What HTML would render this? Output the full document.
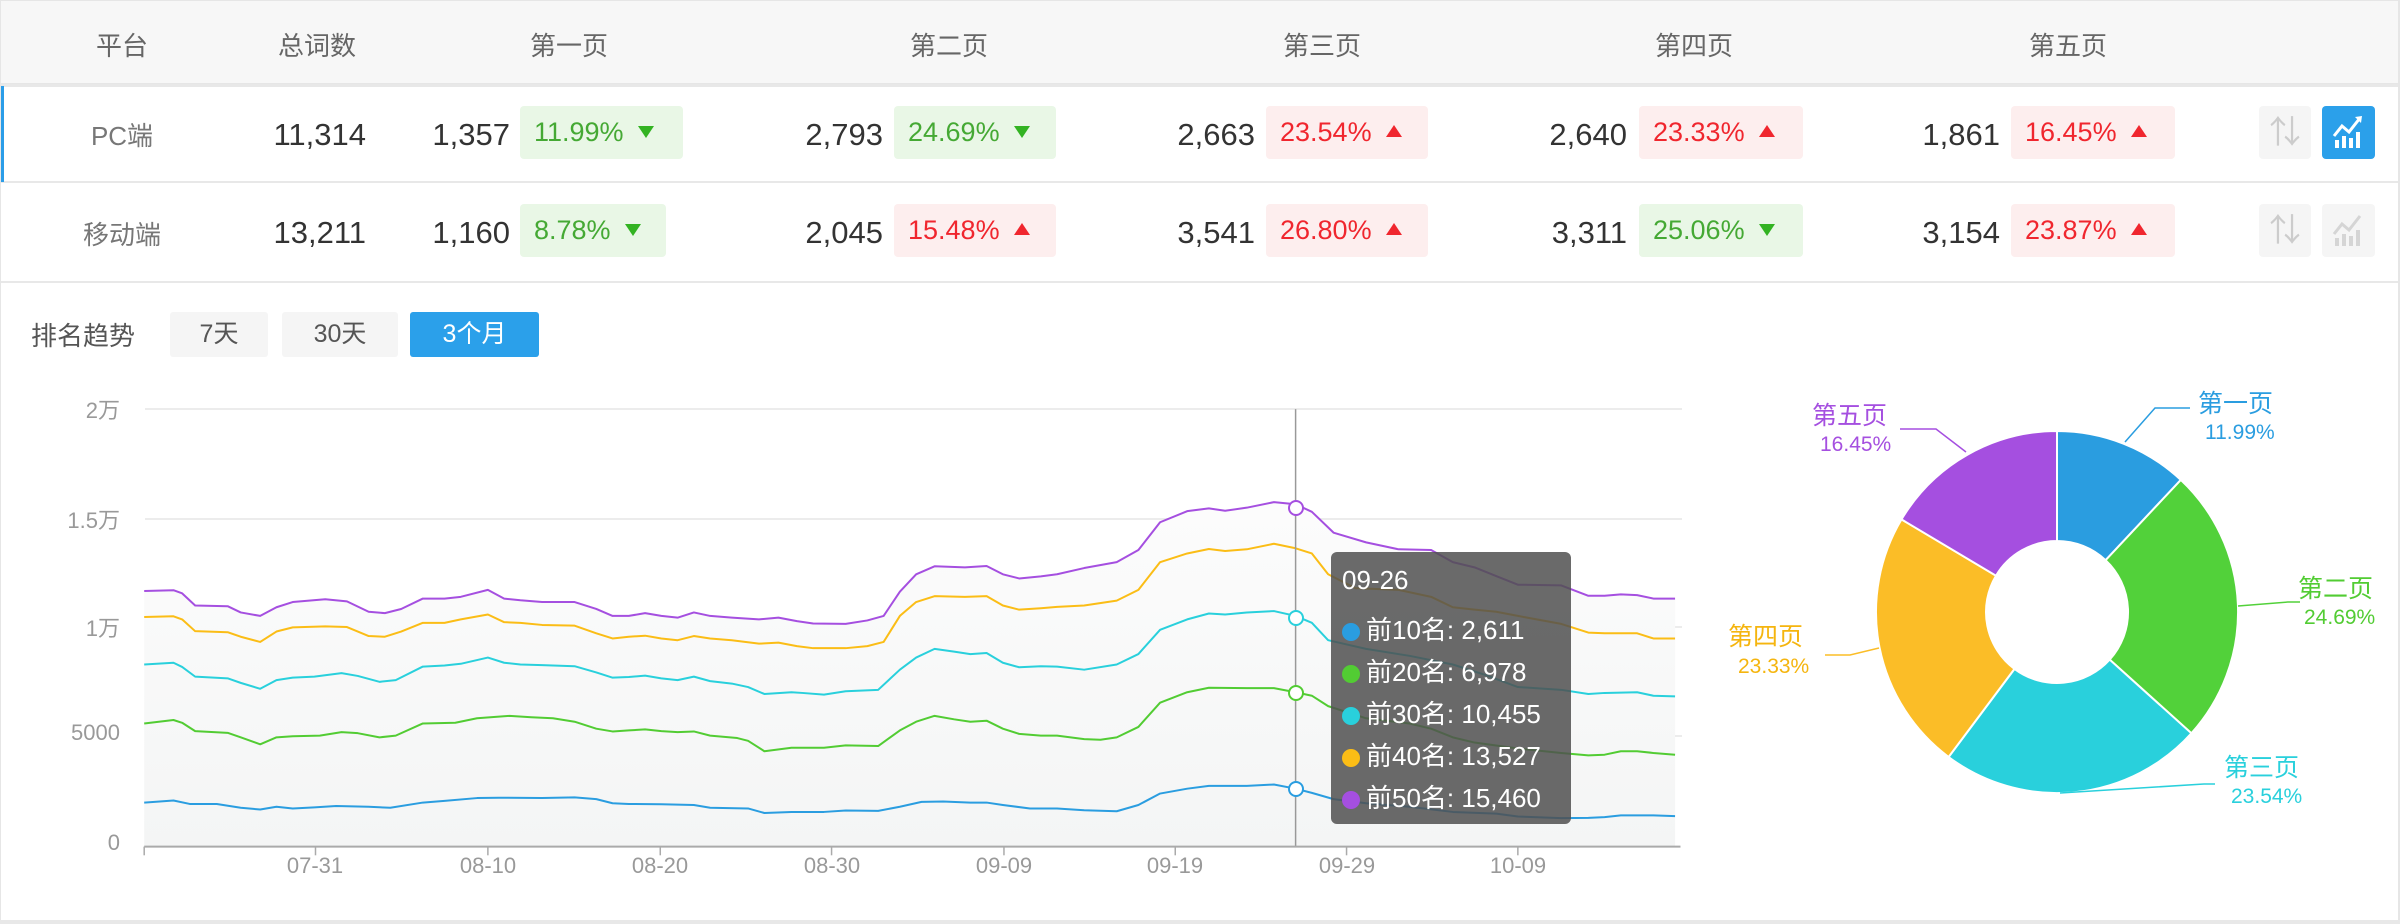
<!DOCTYPE html>
<html><head><meta charset="utf-8"><style>
*{margin:0;padding:0;box-sizing:border-box}
body{width:2400px;height:924px;background:#fff;font-family:"Liberation Sans","Noto Sans CJK SC",sans-serif;position:relative;overflow:hidden}
.a{position:absolute;white-space:nowrap}
.h{color:#666;font-size:26px;top:26px;transform:translateX(-50%)}
.n{color:#333;font-size:31px;text-align:right}
.b{position:absolute;height:53px;border-radius:4px;font-size:27px;line-height:53px;padding-left:14px}
.g{background:#e9f7e6;color:#45a934}
.r{background:#fdeeee;color:#f0262e}
.tu,.td{display:inline-block;width:0;height:0;margin-left:14px;vertical-align:middle;border-left:8px solid transparent;border-right:8px solid transparent}
.tu{border-bottom:12px solid #f0262e;margin-top:-6px}
.td{border-top:12px solid #33b322;margin-top:-4px}
.btn{position:absolute;top:312px;height:45px;border-radius:3px;background:#f5f5f5;color:#555;font-size:25px;line-height:45px;text-align:center}
.yl{color:#999;font-size:22px;text-align:right;width:80px;left:40px}
.xl{color:#999;font-size:22px;top:853px;transform:translateX(-50%)}
.tt{color:#fff;font-size:26px;left:1342px}
.dot{display:inline-block;width:18px;height:18px;border-radius:50%;margin-right:6px;vertical-align:-2px}
.pl{font-size:25px}.pp{font-size:21px}
</style></head><body>
<div class="a" style="left:0;top:0;width:2400px;height:84px;background:#f7f7f7;border:1px solid #e6e6e6"></div>
<div class="a" style="left:0;top:84px;width:2400px;height:3px;background:#e8e8e8"></div>
<div class="a" style="left:0;top:181px;width:2400px;height:2px;background:#e8e8e8"></div>
<div class="a" style="left:0;top:281px;width:2400px;height:2px;background:#e8e8e8"></div>
<div class="a" style="left:0;top:86px;width:4px;height:96px;background:#2b9de8"></div>
<div class="a" style="left:0;top:0;width:1px;height:924px;background:#e6e6e6"></div>
<div class="a" style="left:2398px;top:0;width:2px;height:924px;background:#e6e6e6"></div>
<div class="a" style="left:0;top:920px;width:2400px;height:4px;background:#e8e8e8"></div>

<div class="a h" style="left:122px">平台</div>
<div class="a h" style="left:317px">总词数</div>
<div class="a h" style="left:569px">第一页</div>
<div class="a h" style="left:949px">第二页</div>
<div class="a h" style="left:1322px">第三页</div>
<div class="a h" style="left:1694px">第四页</div>
<div class="a h" style="left:2068px">第五页</div>

<div class="a" style="left:122px;top:116px;transform:translateX(-50%);color:#777;font-size:26px">PC端</div>
<div class="a" style="left:122px;top:215px;transform:translateX(-50%);color:#777;font-size:26px">移动端</div>

<div class="a n" style="right:2034px;top:117px">11,314</div>
<div class="a n" style="right:1890px;top:117px">1,357</div>
<div class="b g" style="left:520px;top:106px;width:163px">11.99%<span class="td"></span></div>
<div class="a n" style="right:1517px;top:117px">2,793</div>
<div class="b g" style="left:894px;top:106px;width:162px">24.69%<span class="td"></span></div>
<div class="a n" style="right:1145px;top:117px">2,663</div>
<div class="b r" style="left:1266px;top:106px;width:162px">23.54%<span class="tu"></span></div>
<div class="a n" style="right:773px;top:117px">2,640</div>
<div class="b r" style="left:1639px;top:106px;width:164px">23.33%<span class="tu"></span></div>
<div class="a n" style="right:400px;top:117px">1,861</div>
<div class="b r" style="left:2011px;top:106px;width:164px">16.45%<span class="tu"></span></div>

<div class="a n" style="right:2034px;top:215px">13,211</div>
<div class="a n" style="right:1890px;top:215px">1,160</div>
<div class="b g" style="left:520px;top:204px;width:146px">8.78%<span class="td"></span></div>
<div class="a n" style="right:1517px;top:215px">2,045</div>
<div class="b r" style="left:894px;top:204px;width:162px">15.48%<span class="tu"></span></div>
<div class="a n" style="right:1145px;top:215px">3,541</div>
<div class="b r" style="left:1266px;top:204px;width:162px">26.80%<span class="tu"></span></div>
<div class="a n" style="right:773px;top:215px">3,311</div>
<div class="b g" style="left:1639px;top:204px;width:164px">25.06%<span class="td"></span></div>
<div class="a n" style="right:400px;top:215px">3,154</div>
<div class="b r" style="left:2011px;top:204px;width:164px">23.87%<span class="tu"></span></div>

<div class="a" style="left:2259px;top:106px;width:52px;height:53px;background:#f5f5f5;border-radius:4px;color:#ccc;font-size:32px;text-align:center;line-height:53px">⇅</div>
<div class="a" style="left:2322px;top:106px;width:53px;height:53px;background:#2ba0ea;border-radius:4px"><svg width="53" height="53"><g fill="#fff"><rect x="13" y="34" width="4" height="8"/><rect x="20" y="30" width="4" height="12"/><rect x="27" y="32" width="4" height="10"/><rect x="34" y="26" width="4" height="16"/></g><polyline points="12,30 20,20 27,26 38,12" fill="none" stroke="#fff" stroke-width="3"/><polygon points="33,11 40,10 39,17" fill="#fff"/></svg></div>
<div class="a" style="left:2259px;top:204px;width:52px;height:53px;background:#f5f5f5;border-radius:4px;color:#ccc;font-size:32px;text-align:center;line-height:53px">⇅</div>
<div class="a" style="left:2322px;top:204px;width:53px;height:53px;background:#f5f5f5;border-radius:4px"><svg width="53" height="53"><g fill="#d5d5d5"><rect x="13" y="34" width="4" height="8"/><rect x="20" y="30" width="4" height="12"/><rect x="27" y="32" width="4" height="10"/><rect x="34" y="26" width="4" height="16"/></g><polyline points="12,30 20,20 27,26 38,12" fill="none" stroke="#d5d5d5" stroke-width="3"/></svg></div>

<div class="a" style="left:31px;top:316px;color:#555;font-size:26px">排名趋势</div>
<div class="btn" style="left:170px;width:98px">7天</div>
<div class="btn" style="left:282px;width:116px">30天</div>
<div class="btn" style="left:410px;width:129px;background:#2ba0ea;color:#fff">3个月</div>

<div class="a" style="left:145px;top:408px;width:1537px;height:2px;background:#ececec"></div>
<div class="a" style="left:145px;top:518px;width:1537px;height:2px;background:#ececec"></div>
<div class="a" style="left:145px;top:626px;width:1537px;height:2px;background:#ececec"></div>
<div class="a" style="left:145px;top:735px;width:1537px;height:2px;background:#ececec"></div>
<div class="a yl" style="top:393px">2万</div>
<div class="a yl" style="top:503px">1.5万</div>
<div class="a yl" style="top:611px">1万</div>
<div class="a yl" style="top:720px">5000</div>
<div class="a yl" style="top:830px">0</div>

<svg class="a" style="left:0;top:380px" width="1700" height="544" viewBox="0 0 1568 1568" preserveAspectRatio="none">
<defs><linearGradient id="gf" x1="0" y1="0" x2="0" y2="1"><stop offset="0" stop-color="#fcfcfc"/><stop offset="1" stop-color="#f4f5f5"/></linearGradient></defs>
<g fill="none" stroke-width="2" stroke-linejoin="round">
<polygon fill="url(#gf)" stroke="none" points="133,1345 133,608 160,606 168,615 180,650 210,652 222,670 240,680 255,655 270,640 300,632 320,638 340,668 355,672 370,660 390,630 410,630 425,625 450,605 465,630 480,635 500,640 530,640 550,660 565,680 580,680 595,672 610,680 625,685 640,670 655,680 675,685 700,690 718,685 735,695 750,702 780,703 800,693 815,680 830,610 845,560 862,537 890,540 910,536 925,560 940,572 960,566 975,560 1000,542 1030,525 1050,490 1070,410 1095,378 1115,370 1130,377 1150,368 1175,352 1195,358 1210,380 1230,440 1260,468 1290,488 1320,490 1340,525 1360,540 1380,565 1400,590 1440,592 1465,622 1480,622 1495,618 1510,620 1525,630 1545,630 1545,1345"/>
<polyline vector-effect="non-scaling-stroke" stroke="#a54fe0" points="133,608 160,606 168,615 180,650 210,652 222,670 240,680 255,655 270,640 300,632 320,638 340,668 355,672 370,660 390,630 410,630 425,625 450,605 465,630 480,635 500,640 530,640 550,660 565,680 580,680 595,672 610,680 625,685 640,670 655,680 675,685 700,690 718,685 735,695 750,702 780,703 800,693 815,680 830,610 845,560 862,537 890,540 910,536 925,560 940,572 960,566 975,560 1000,542 1030,525 1050,490 1070,410 1095,378 1115,370 1130,377 1150,368 1175,352 1195,358 1210,380 1230,440 1260,468 1290,488 1320,490 1340,525 1360,540 1380,565 1400,590 1440,592 1465,622 1480,622 1495,618 1510,620 1525,630 1545,630"/>
<polyline vector-effect="non-scaling-stroke" stroke="#fbbd16" points="133,683 160,681 168,690 180,724 210,727 222,740 240,755 255,725 270,713 300,710 320,712 340,738 355,740 370,725 390,700 410,700 425,690 450,676 465,698 480,700 500,706 530,708 550,730 565,745 580,740 595,737 610,745 625,750 640,738 655,745 675,750 700,760 718,757 735,767 750,773 780,773 800,767 815,755 830,680 845,640 862,623 890,625 910,623 925,650 940,662 960,658 975,654 1000,650 1030,636 1050,605 1070,525 1095,500 1115,487 1130,493 1150,488 1175,472 1195,485 1210,500 1225,560 1250,600 1290,605 1320,625 1340,655 1360,662 1380,668 1400,680 1440,703 1465,728 1480,730 1510,730 1525,745 1545,745"/>
<polyline vector-effect="non-scaling-stroke" stroke="#29d0dc" points="133,820 160,815 168,827 180,855 210,860 222,873 240,890 255,865 270,858 290,855 315,845 330,853 350,870 365,865 390,826 410,823 425,818 450,800 465,815 480,820 500,822 530,825 550,843 565,858 580,856 595,852 610,860 625,865 640,855 655,868 675,875 690,885 705,905 730,900 740,902 760,907 780,897 810,893 830,835 845,800 862,775 880,783 895,790 910,787 925,815 940,828 960,825 975,826 1000,835 1030,820 1050,790 1070,720 1095,690 1115,673 1130,676 1150,670 1175,666 1195,680 1210,700 1225,750 1260,775 1300,795 1340,820 1370,850 1400,885 1440,893 1465,905 1480,902 1510,900 1525,910 1545,912"/>
<polyline vector-effect="non-scaling-stroke" stroke="#52cc33" points="133,990 160,980 168,988 180,1012 210,1017 222,1030 240,1050 255,1030 270,1027 295,1025 315,1015 330,1018 350,1030 365,1025 390,990 420,988 440,975 470,968 490,972 510,975 530,985 550,1005 565,1013 580,1010 595,1007 610,1012 625,1015 640,1013 655,1025 680,1032 690,1040 705,1070 730,1060 760,1060 780,1053 810,1055 830,1010 845,985 862,968 880,978 895,985 910,982 925,1005 940,1020 960,1025 975,1025 1000,1035 1015,1037 1030,1030 1050,1000 1070,930 1095,900 1115,887 1150,888 1175,888 1195,900 1210,910 1225,940 1260,975 1300,990 1320,1005 1340,1030 1360,1045 1400,1062 1440,1075 1465,1082 1480,1080 1495,1070 1510,1070 1525,1075 1545,1080"/>
<polyline vector-effect="non-scaling-stroke" stroke="#2a9de0" points="133,1218 160,1212 175,1222 200,1222 222,1233 240,1238 255,1230 270,1235 290,1232 310,1228 340,1230 360,1233 390,1218 410,1213 440,1205 460,1204 500,1205 530,1203 550,1208 565,1220 580,1222 610,1223 640,1225 655,1233 690,1235 705,1248 730,1245 760,1245 780,1241 810,1242 830,1230 850,1216 870,1215 895,1218 910,1218 925,1225 950,1235 975,1235 1000,1240 1030,1243 1050,1225 1070,1192 1095,1178 1115,1170 1150,1170 1175,1166 1195,1178 1210,1190 1230,1208 1260,1220 1300,1230 1340,1245 1380,1250 1400,1258 1440,1263 1465,1262 1480,1260 1495,1255 1525,1255 1545,1257"/>
<line vector-effect="non-scaling-stroke" x1="1195" y1="84" x2="1195" y2="1345" stroke="#999" stroke-width="1.5"/>
<line vector-effect="non-scaling-stroke" x1="133" y1="1345" x2="1550" y2="1345" stroke="#aaa" stroke-width="2"/>
<g stroke="#aaa" stroke-width="1.5">
<line vector-effect="non-scaling-stroke" x1="133" y1="1345" x2="133" y2="1370"/><line vector-effect="non-scaling-stroke" x1="291" y1="1345" x2="291" y2="1370"/><line vector-effect="non-scaling-stroke" x1="450" y1="1345" x2="450" y2="1370"/><line vector-effect="non-scaling-stroke" x1="609" y1="1345" x2="609" y2="1370"/><line vector-effect="non-scaling-stroke" x1="767" y1="1345" x2="767" y2="1370"/><line vector-effect="non-scaling-stroke" x1="926" y1="1345" x2="926" y2="1370"/><line vector-effect="non-scaling-stroke" x1="1084" y1="1345" x2="1084" y2="1370"/><line vector-effect="non-scaling-stroke" x1="1242" y1="1345" x2="1242" y2="1370"/><line vector-effect="non-scaling-stroke" x1="1400" y1="1345" x2="1400" y2="1370"/></g>
</g></svg>
<svg class="a" style="left:0;top:0" width="1700" height="924"><g fill="#fff" stroke-width="2">
<circle cx="1296" cy="508" r="7" stroke="#a54fe0"/><circle cx="1296" cy="618" r="7" stroke="#29d0dc"/><circle cx="1296" cy="693" r="7" stroke="#52cc33"/><circle cx="1296" cy="789" r="7" stroke="#2a9de0"/></g></svg>

<div class="a xl" style="left:315px">07-31</div>
<div class="a xl" style="left:488px">08-10</div>
<div class="a xl" style="left:660px">08-20</div>
<div class="a xl" style="left:832px">08-30</div>
<div class="a xl" style="left:1004px">09-09</div>
<div class="a xl" style="left:1175px">09-19</div>
<div class="a xl" style="left:1347px">09-29</div>
<div class="a xl" style="left:1518px">10-09</div>

<div class="a" style="left:1331px;top:552px;width:240px;height:272px;background:rgba(80,80,80,0.85);border-radius:6px"></div>
<div class="a tt" style="top:565px">09-26</div>
<div class="a tt" style="top:610px"><span class="dot" style="background:#2a9de0"></span>前10名: 2,611</div>
<div class="a tt" style="top:652px"><span class="dot" style="background:#52cc33"></span>前20名: 6,978</div>
<div class="a tt" style="top:694px"><span class="dot" style="background:#29d0dc"></span>前30名: 10,455</div>
<div class="a tt" style="top:736px"><span class="dot" style="background:#fbbd16"></span>前40名: 13,527</div>
<div class="a tt" style="top:778px"><span class="dot" style="background:#a54fe0"></span>前50名: 15,460</div>

<svg class="a" style="left:1700px;top:300px" width="700" height="600" viewBox="1700 300 700 600"><g stroke="#fff" stroke-width="2">
<path fill="#2a9de0" d="M2057,431 A181,181 0 0 1 2180.8,479.9 L2105.6,560.2 A71,71 0 0 0 2057,541 Z"/>
<path fill="#52d13a" d="M2180.8,479.9 A181,181 0 0 1 2191.4,733.3 L2109.7,659.6 A71,71 0 0 0 2105.6,560.2 Z"/>
<path fill="#29d0dc" d="M2191.4,733.3 A181,181 0 0 1 1948.6,757 L2014.5,668.9 A71,71 0 0 0 2109.7,659.6 Z"/>
<path fill="#fbbd27" d="M1948.6,757 A181,181 0 0 1 1901.5,519.4 L1996,575.7 A71,71 0 0 0 2014.5,668.9 Z"/>
<path fill="#a54fe0" d="M1901.5,519.4 A181,181 0 0 1 2057,431 L2057,541 A71,71 0 0 0 1996,575.7 Z"/></g>
<g fill="none" stroke-width="1.5">
<polyline stroke="#2a9de0" points="2125,442 2155,408 2190,408"/>
<polyline stroke="#52d13a" points="2238,606 2288,602 2300,602"/>
<polyline stroke="#29d0dc" points="2060,793 2204,784 2215,784"/>
<polyline stroke="#fbbd27" points="1879,648 1850,655 1825,655"/>
<polyline stroke="#a54fe0" points="1966,452 1936,429 1900,429"/></g></svg>
<div class="a pl" style="left:2198px;top:384px;color:#2a9de0">第一页</div>
<div class="a pp" style="left:2205px;top:421px;color:#2a9de0">11.99%</div>
<div class="a pl" style="left:2298px;top:569px;color:#52cc33">第二页</div>
<div class="a pp" style="left:2304px;top:606px;color:#52cc33">24.69%</div>
<div class="a pl" style="left:2224px;top:748px;color:#29d0dc">第三页</div>
<div class="a pp" style="left:2231px;top:785px;color:#29d0dc">23.54%</div>
<div class="a pl" style="left:1728px;top:617px;color:#f5b50f">第四页</div>
<div class="a pp" style="left:1738px;top:655px;color:#f5b50f">23.33%</div>
<div class="a pl" style="left:1812px;top:396px;color:#a54fe0">第五页</div>
<div class="a pp" style="left:1820px;top:433px;color:#a54fe0">16.45%</div>
</body></html>
